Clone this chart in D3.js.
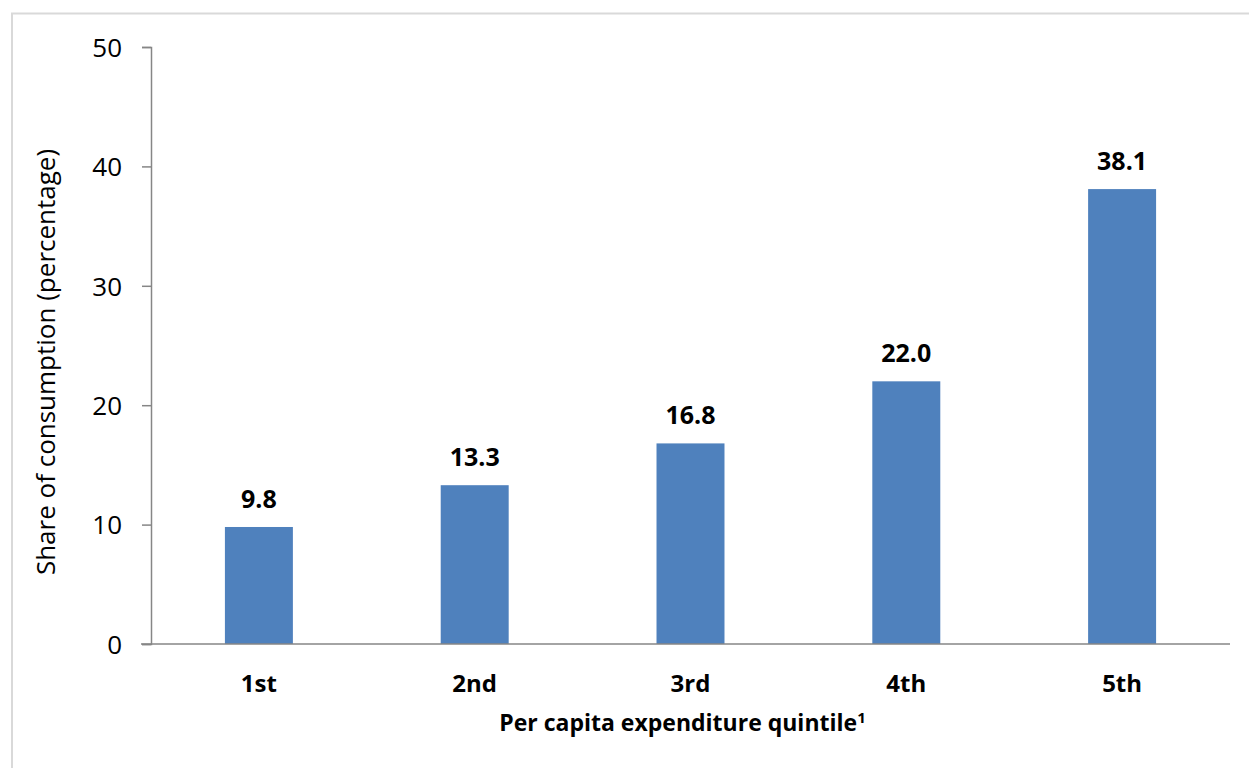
<!DOCTYPE html>
<html><head><meta charset="utf-8">
<script src="https://cdn.jsdelivr.net/npm/d3@7"></script>
<style>body{margin:0;background:#fff}svg{display:block}text{font-family:"Open Sans","Noto Sans",sans-serif}</style>
</head><body>
<script>
const categories = ["1st","2nd","3rd","4th","5th"];
const values = [9.8,13.3,16.8,22.0,38.1];
const yTicks = [0,10,20,30,40,50];
const yTitle = "Share of consumption (percentage)";
const xTitle = "Per capita expenditure quintile";

(function(){
const W=1249,H=768;
const svg=d3.select("body").append("svg").attr("width",W).attr("height",H);
svg.append("rect").attr("x",12).attr("y",13.5).attr("width",W).attr("height",H).attr("fill","none").attr("stroke","#d9d9d9").attr("stroke-width",2);

const pL=151,pR=1230,pT=47,pB=644;
const x=d3.scaleBand().domain(categories).range([pL,pR]).paddingInner(0.685).paddingOuter(0.3425);
const y=d3.scaleLinear().domain([0,50]).range([pB,pT]);

svg.selectAll("rect.bar").data(values).join("rect").attr("class","bar")
  .attr("x",(d,i)=>x(categories[i])).attr("width",x.bandwidth())
  .attr("y",d=>y(d)).attr("height",d=>y(0)-y(d)).attr("fill","#4f81bd");

const ya=svg.append("g").attr("transform",`translate(${pL},0)`)
  .call(d3.axisLeft(y).tickValues(yTicks).tickSize(9).tickPadding(20).tickFormat(d3.format("d")));
ya.select(".domain").attr("stroke","#868686").attr("stroke-width",1.5);
ya.selectAll(".tick line").attr("stroke","#868686").attr("stroke-width",1.5);
ya.selectAll(".tick text").attr("font-size",26).attr("fill","#000").attr("font-family","'Open Sans',sans-serif").attr("dy","0.36em");

svg.append("line").attr("x1",pL-10).attr("x2",pR).attr("y1",pB).attr("y2",pB).attr("stroke","#868686").attr("stroke-width",1.5);

svg.selectAll("text.cat").data(categories).join("text").attr("class","cat")
  .attr("x",d=>x(d)+x.bandwidth()/2).attr("y",692).attr("text-anchor","middle")
  .attr("font-size",24).attr("font-weight","bold").text(d=>d);

svg.selectAll("text.val").data(values).join("text").attr("class","val")
  .attr("x",(d,i)=>x(categories[i])+x.bandwidth()/2).attr("y",d=>y(d)-19).attr("text-anchor","middle")
  .attr("font-size",25).attr("font-weight","bold").text(d=>d.toFixed(1));

const xt=svg.append("text").attr("x",(pL+pR)/2-8).attr("y",731).attr("text-anchor","middle")
  .attr("font-size",23).attr("font-weight","bold");
xt.append("tspan").text(xTitle);
xt.append("tspan").attr("dy",-8).attr("font-size",15).text("1");

svg.append("text").attr("transform",`translate(55,362) rotate(-90)`).attr("text-anchor","middle")
  .attr("font-size",26).text(yTitle);
})();
</script>
</body></html>
